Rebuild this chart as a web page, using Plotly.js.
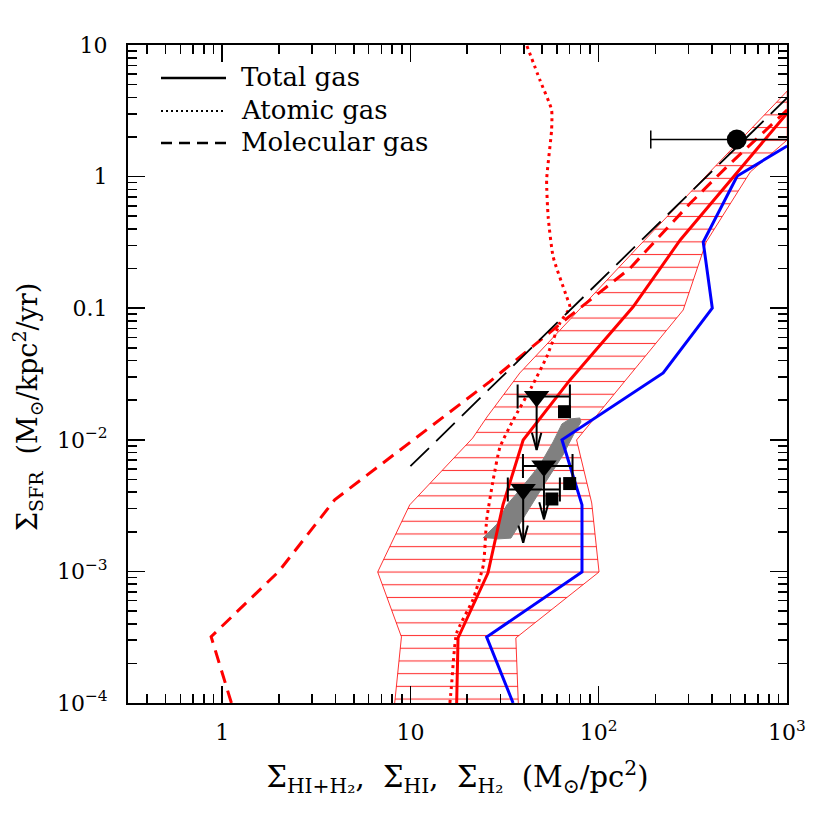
<!DOCTYPE html>
<html><head><meta charset="utf-8">
<script src="https://cdn.plot.ly/plotly-3.0.1.min.js"></script>
<style>html,body{margin:0;padding:0;background:#fff}#chart{width:830px;height:830px}</style>
</head><body><div id="chart"></div>
<script>
// ---- data ----
const totalX = [17.6, 17.9, 25.8, 31.0, 39.7, 70.4, 152, 271, 1003];
const totalY = [1e-4, 3.12e-4, 9.7e-4, 3.2e-3, 9.97e-3, 0.0285, 0.102, 0.33, 3.04];

const atomicX = [16.2, 16.5, 17.6, 21.45, 24.4, 25.4, 27.5, 29.9, 35.1, 44.0, 52.9, 62.2, 70.3, 67.6, 57.3, 53.9, 52.9, 56.2, 56.2, 48.7, 41.4];
const atomicY = [1e-4, 1.32e-4, 3.4e-4, 6.07e-4, 1.12e-3, 2.46e-3, 4.95e-3, 8.81e-3, 0.0141, 0.0252, 0.0426, 0.0772, 0.102, 0.122, 0.245, 0.493, 0.942, 2.26, 3.21, 5.42, 10];

const molX = [1.12, 0.874, 2.0, 3.96, 26.4, 66.2, 146.6, 306, 480, 1003];
const molY = [1e-4, 3.19e-4, 1e-3, 3.5e-3, 0.0277, 0.0813, 0.201, 0.627, 1.19, 3.21];

const ksX = [10, 1000];
const ksY = [6.3e-3, 3.96];

const blueX = [35.1, 25.4, 81.5, 81.5, 63.8, 220, 401, 359, 544, 1003];
const blueY = [1e-4, 3.17e-4, 9.9e-4, 3.2e-3, 0.01, 0.0322, 0.1003, 0.318, 1.01, 1.71];

const bandUpperX = [8.25, 8.96, 6.70, 9.91, 21.4, 25.5, 38.1, 160, 1003];
const bandUpperY = [1e-4, 3.18e-4, 9.9e-4, 3.2e-3, 0.0103, 0.0149, 0.0322, 0.287, 4.47];
const bandLowerX = [1003, 638, 372, 281, 76.3, 91.8, 97.5, 100.4, 36.3, 37.4];
const bandLowerY = [1.90, 1.084, 0.318, 0.0969, 9.97e-3, 3.31e-3, 1.455e-3, 9.9e-4, 3.12e-4, 1e-4];

const blobX = [24.25, 28.8, 32.5, 38.1, 48.7, 57.2, 63.8, 70.3, 79.4, 80.5, 74.8, 64.6, 53.1, 45.8, 41.6, 37.2, 34.2, 28.1];
const blobY = [1.79e-3, 2.29e-3, 3.2e-3, 4.16e-3, 6.44e-3, 9.62e-3, 0.0132, 0.0144, 0.01465, 0.01365, 0.01146, 7.66e-3, 4.95e-3, 3.49e-3, 2.83e-3, 2.14e-3, 1.79e-3, 1.76e-3];

const limX = [46.8, 51.2, 39.7];
const limY = [0.0213, 6.32e-3, 4.2e-3];
const limXlo = [37.1, 39.6, 32.9];
const limXhi = [70.3, 72.6, 62.2];

const sqX = [65.8, 70.1, 56.4];
const sqY = [0.01635, 4.65e-3, 3.55e-3];

const circX = [541];
const circY = [1.914];
const circXlo = [189];
const circXhi = [1550];

const xTickVals = [1, 10, 100, 1000];
const xTickText = ['1', '10', '10<sup>2</sup>', '10<sup>3</sup>'];
const yTickVals = [1e-4, 1e-3, 1e-2, 0.1, 1, 10];
const yTickText = ['10<sup>\u22124</sup>', '10<sup>\u22123</sup>', '10<sup>\u22122</sup>', '0.1', '1', '10'];

const legendLabels = ['Total gas', 'Atomic gas', 'Molecular gas'];

// ---- helpers ----
const FONT = 'DejaVu Serif, Liberation Serif, serif';
function minorTicks(lo, hi) {
  const out = [];
  for (let e = lo; e < hi; e++) for (let m = 2; m <= 9; m++) out.push(m * Math.pow(10, e));
  return out;
}
const L = 128, R = 787, T = 45, B = 703;
const pxX = p => (p - L) / (R - L);
const pxY = p => (B - p) / (B - T);
const arrowDex = 0.405;     // arrow length (decades)
const headDy = 0.13;        // arrowhead length (decades)
const headDx = 0.025;       // arrowhead half width (decades)

const traces = [];
traces.push({
  x: bandUpperX.concat(bandLowerX), y: bandUpperY.concat(bandLowerY),
  mode: 'lines', fill: 'toself', line: {color: 'red', width: 0.8},
  fillcolor: 'rgba(0,0,0,0)',
  fillpattern: {shape: '-', size: 12.7, solidity: 0.085, fgcolor: 'rgba(255,0,0,0.8)', bgcolor: 'rgba(0,0,0,0)'},
  hoverinfo: 'skip', showlegend: false
});
traces.push({x: blobX, y: blobY, mode: 'lines', fill: 'toself', fillcolor: '#808080',
  line: {color: '#808080', width: 1}, showlegend: false});
traces.push({x: blueX, y: blueY, mode: 'lines', line: {color: '#0000ff', width: 3}, showlegend: false});
traces.push({x: molX, y: molY, mode: 'lines', line: {color: 'red', width: 3, dash: '13px,8px'}, showlegend: false});
traces.push({x: atomicX, y: atomicY, mode: 'lines', line: {color: 'red', width: 3, dash: '3px,4px', shape: 'spline', smoothing: 0.5}, showlegend: false});
traces.push({x: totalX, y: totalY, mode: 'lines', line: {color: 'red', width: 3}, showlegend: false});
traces.push({x: ksX, y: ksY, mode: 'lines', line: {color: 'black', width: 1.8, dash: '26px,10px'}, showlegend: false});

// upper-limit arrows (shaft + chevron head), derived from the limit points
const arrX = [], arrY = [];
limX.forEach((x, i) => {
  const y0 = limY[i], tip = y0 / Math.pow(10, arrowDex);
  arrX.push(x, x, null);
  arrY.push(y0, tip, null);
  arrX.push(x / Math.pow(10, headDx), x, x * Math.pow(10, headDx), null);
  arrY.push(tip * Math.pow(10, headDy), tip, tip * Math.pow(10, headDy), null);
});
traces.push({x: arrX, y: arrY, mode: 'lines', line: {color: 'black', width: 2}, showlegend: false});

traces.push({x: limX, y: limY, mode: 'markers',
  marker: {symbol: 'triangle-down', size: 22, color: 'black'},
  error_x: {type: 'data', symmetric: false,
    array: limX.map((v, i) => limXhi[i] - v), arrayminus: limX.map((v, i) => v - limXlo[i]),
    color: 'black', thickness: 2, width: 12},
  showlegend: false});
traces.push({x: sqX, y: sqY, mode: 'markers', marker: {symbol: 'square', size: 13, color: 'black'}, showlegend: false});
traces.push({x: circX, y: circY, mode: 'markers', marker: {symbol: 'circle', size: 20, color: 'black'},
  error_x: {type: 'data', symmetric: false,
    array: circX.map((v, i) => circXhi[i] - v), arrayminus: circX.map((v, i) => v - circXlo[i]),
    color: 'black', thickness: 1.5, width: 9},
  showlegend: false});

const annotations = [];
// legend
const legY = [78, 111, 143];
const legDash = ['solid', '2px,3px', '11px,7px'];
const legW = [2.5, 2, 2.5];
const shapes = [];
legendLabels.forEach((lab, i) => {
  shapes.push({type: 'line', xref: 'paper', yref: 'paper', x0: pxX(161), x1: pxX(226), y0: pxY(legY[i]), y1: pxY(legY[i]),
    line: {color: 'black', width: legW[i], dash: legDash[i]}});
  annotations.push({xref: 'paper', yref: 'paper', x: pxX(239), y: pxY(legY[i] - 1), xanchor: 'left', yanchor: 'middle',
    text: lab, showarrow: false, font: {family: FONT, size: 26, color: 'black'}});
});
// y title
annotations.push({xref: 'paper', yref: 'paper', x: pxX(27), y: pxY(407), xanchor: 'center', yanchor: 'middle',
  textangle: -90, showarrow: false,
  text: '\u03a3<sub>SFR</sub>  (M<sub>\u2299</sub>/kpc<sup>2</sup>/yr)',
  font: {family: FONT, size: 27, color: 'black'}});

const axisCommon = {
  type: 'log', showline: true, linewidth: 2, linecolor: 'black', mirror: 'allticks',
  ticks: 'inside', ticklen: 17, tickwidth: 1.5, tickcolor: 'black',
  tickmode: 'array', showgrid: false, zeroline: false,
  tickfont: {family: FONT, size: 22, color: 'black'}
};

const layout = {
  width: 830, height: 830,
  margin: {l: L, r: 830 - R, t: T, b: 830 - B},
  paper_bgcolor: 'white', plot_bgcolor: 'white',
  showlegend: false,
  xaxis: Object.assign({}, axisCommon, {
    range: [-0.5, 3], tickvals: xTickVals, ticktext: xTickText, ticklabelstandoff: 9,
    minor: {tickmode: 'array', tickvals: minorTicks(-1, 3).filter(v => v > 0.31), ticks: 'inside', ticklen: 9, tickwidth: 1.5, tickcolor: 'black'},
    title: {text: '\u03a3<sub>HI+H\u2082</sub>,  \u03a3<sub>HI</sub>,  \u03a3<sub>H\u2082</sub>  (M<sub>\u2299</sub>/pc<sup>2</sup>)',
      font: {family: FONT, size: 29, color: 'black'}, standoff: 22}
  }),
  yaxis: Object.assign({}, axisCommon, {
    range: [-4, 1], tickvals: yTickVals, ticktext: yTickText, ticklabelstandoff: 14,
    minor: {tickmode: 'array', tickvals: minorTicks(-4, 1), ticks: 'inside', ticklen: 9, tickwidth: 1.5, tickcolor: 'black'}
  }),
  shapes: shapes,
  annotations: annotations
};

Plotly.newPlot('chart', traces, layout, {staticPlot: true, displayModeBar: false});
</script></body></html>
